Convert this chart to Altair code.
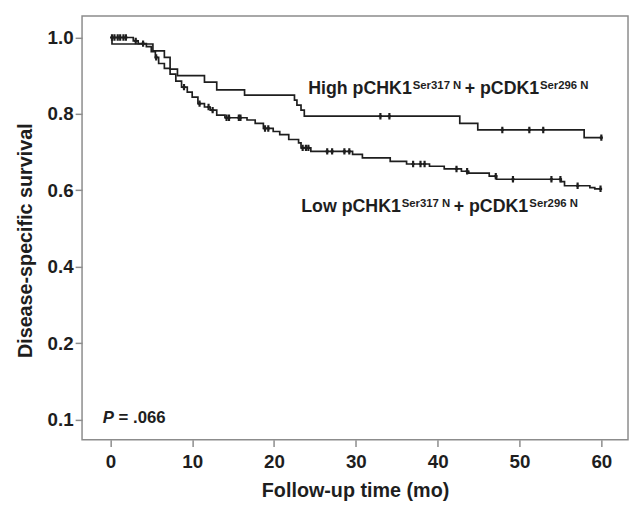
import altair as alt
import pandas as pd

# ---- data ----
high_t = [0, 0.2, 5.2, 6.6, 7.3, 8.2, 11.5, 13.0, 16.4, 22.5, 22.8, 23.3, 23.7, 42.7, 44.9, 57.9, 60]
high_s = [1.0, 0.983, 0.965, 0.948, 0.917, 0.900, 0.883, 0.863, 0.849, 0.836, 0.823, 0.810, 0.794,
          0.775, 0.758, 0.738, 0.738]
high_censor = [33.0, 34.1, 47.9, 51.2, 52.9, 60.0]

low_t = [0, 2.8, 3.4, 4.4, 5.0, 5.5, 5.9, 6.6, 7.3, 8.0, 8.7, 9.4, 10.0, 10.7, 11.5, 12.2, 13.0,
         14.0, 16.7, 17.7, 18.7, 19.9, 20.7, 21.8, 23.0, 23.3, 24.5, 29.6, 30.8, 34.2, 36.2, 39.0,
         40.8, 42.9, 43.8, 46.3, 47.2, 55.1, 55.5, 58.6, 59.2, 60]
low_s = [1.0, 0.991, 0.984, 0.976, 0.963, 0.948, 0.932, 0.919, 0.904, 0.886, 0.870, 0.857, 0.844,
         0.827, 0.818, 0.810, 0.797, 0.790, 0.784, 0.775, 0.762, 0.754, 0.746, 0.733, 0.724, 0.711,
         0.702, 0.694, 0.685, 0.676, 0.669, 0.663, 0.656, 0.650, 0.645, 0.637, 0.629, 0.623, 0.612,
         0.607, 0.604, 0.604]
low_censor = [0.2, 0.5, 0.9, 1.2, 1.6, 1.9, 3.1, 4.0, 5.6, 9.0, 10.9, 12.0, 12.5, 14.2, 14.5, 15.7,
              15.9, 18.9, 19.3, 23.5, 23.9, 24.2, 26.5, 27.1, 28.6, 29.2, 37.0, 37.9, 38.4, 42.3,
              43.6, 47.1, 49.2, 53.9, 55.0, 57.1, 59.9]

x_ticks = [0, 10, 20, 30, 40, 50, 60]
y_ticks = [0.0, 0.2, 0.4, 0.6, 0.8, 1.0]

groups = ["High", "Low"]


def surv_at(ts, ss, t):
    val = ss[0]
    for tt, s in zip(ts, ss):
        if tt <= t:
            val = s
    return val


lines = pd.DataFrame(
    [{"group": "High", "t": t, "s": s} for t, s in zip(high_t, high_s)]
    + [{"group": "Low", "t": t, "s": s} for t, s in zip(low_t, low_s)]
)
cens = pd.DataFrame(
    [{"group": "High", "t": t, "s": surv_at(high_t, high_s, t)} for t in high_censor]
    + [{"group": "Low", "t": t, "s": surv_at(low_t, low_s, t)} for t in low_censor]
)

FONT = "Liberation Sans"
INK = "#1e1e1e"
FRAME = "#8c8c8c"

xs = alt.Scale(domain=[-3.46, 63.26], nice=False, zero=False)
ys = alt.Scale(domain=[-0.0525, 1.056], nice=False, zero=False)

x_enc = alt.X("t:Q", scale=xs, axis=alt.Axis(
    values=x_ticks, title="Follow-up time (mo)", format="d",
    titleY=58, titleBaseline="alphabetic", labelPadding=6))
y_enc = alt.Y("s:Q", scale=ys, axis=alt.Axis(
    values=y_ticks, title="Disease-specific survival",
    labelExpr="datum.value == 0 ? '0.1' : format(datum.value, '.1f')",
    titleX=-51, titleY=227, titleBaseline="alphabetic", labelPadding=2))

line_layer = alt.Chart(lines).mark_line(interpolate="step-after", strokeWidth=1.7, color=INK).encode(
    x=x_enc, y=y_enc, detail="group:N", order="t:Q")

cens_layer = alt.Chart(cens).mark_point(
    shape="M0,-1L0,1M-0.5,0L0.5,0", size=42, strokeWidth=2.2, color=INK, filled=False, opacity=1
).encode(x="t:Q", y="s:Q")


def txt(text, x, y, size=18, style="normal"):
    return alt.Chart(pd.DataFrame({"a": [0]})).mark_text(
        text=text, align="left", baseline="alphabetic", font=FONT, fontSize=size,
        fontWeight="bold", fontStyle=style, color=INK
    ).encode(x=alt.datum(x), y=alt.datum(y))


texts = [
    txt("High pCHK1", 24.17, 0.852),
    txt("Ser317 N", 36.95, 0.865, size=11.5),
    txt("+ pCDK1", 43.3, 0.852),
    txt("Ser296 N", 52.5, 0.865, size=11.5),
    txt("Low pCHK1", 23.32, 0.5444),
    txt("Ser317 N", 35.6, 0.557, size=11.5),
    txt("+ pCDK1", 41.95, 0.5444),
    txt("Ser296 N", 51.2, 0.557, size=11.5),
    txt("P", -0.94, -0.0085, size=17, style="italic"),
    txt("= .066", 1.0, -0.0085, size=17),
]

chart = alt.layer(line_layer, cens_layer, *texts).properties(
    width=553, height=429,
    autosize=alt.AutoSizeParams(type="none"),
    padding={"left": 75, "top": 5, "right": 1, "bottom": 63},
).configure_view(
    stroke=FRAME, strokeWidth=1.5
).configure_axis(
    grid=False, domain=False, ticks=True, tickSize=7, tickColor=FRAME, tickWidth=1.5,
    labelFont=FONT, labelFontSize=19, labelFontWeight="bold", labelColor=INK,
    titleFont=FONT, titleFontSize=20, titleFontWeight="bold", titleColor=INK,
)

chart.save("out.html", embed_options={"renderer": "svg", "actions": False})
